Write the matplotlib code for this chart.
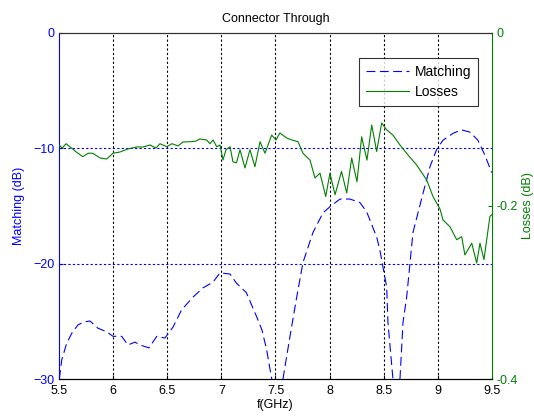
import matplotlib
matplotlib.use("Agg")
import matplotlib.pyplot as plt

plt.rcParams['font.family'] = ['Liberation Sans', 'DejaVu Sans']

# Matching (dB) vs frequency (GHz)
match_f = [5.503, 5.525, 5.571, 5.62, 5.676, 5.73, 5.786, 5.86, 5.94, 5.999, 6.079, 6.137,
           6.202, 6.248, 6.331, 6.403, 6.479, 6.553, 6.633, 6.738, 6.83, 6.923, 6.987, 7.08,
           7.14, 7.23, 7.326, 7.375, 7.419, 7.465, 7.52, 7.569, 7.634, 7.696, 7.754, 7.846,
           7.939, 8.003, 8.096, 8.188, 8.28, 8.342, 8.435, 8.465, 8.493, 8.527, 8.539, 8.585,
           8.62, 8.65, 8.678, 8.712, 8.77, 8.863, 8.927, 8.989, 9.047, 9.14, 9.22, 9.297,
           9.37, 9.435, 9.497]
match_db = [-30.0, -28.35, -26.9, -26.0, -25.3, -25.06, -24.97, -25.6, -25.9, -26.3, -26.3, -27.05,
            -26.8, -27.05, -27.3, -26.3, -26.45, -25.5, -24.0, -22.9, -22.1, -21.6, -20.8, -20.9,
            -21.7, -22.5, -24.6, -25.75, -27.5, -30.0, -35.0, -30.0, -26.3, -22.9, -19.9, -17.3,
            -15.6, -15.06, -14.4, -14.4, -14.7, -15.5, -17.7, -18.85, -20.3, -22.0, -25.1, -30.0,
            -36.0, -30.0, -25.1, -22.9, -17.3, -13.9, -11.6, -10.1, -9.3, -8.7, -8.4, -8.6,
            -9.3, -10.6, -12.1]

# Losses (dB) vs frequency (GHz)
loss_f = [5.5, 5.53, 5.565, 5.6, 5.66, 5.72, 5.77, 5.81, 5.88, 5.94, 5.999, 6.063, 6.137,
          6.218, 6.276, 6.34, 6.396, 6.433, 6.495, 6.544, 6.6, 6.645, 6.71, 6.766, 6.80,
          6.864, 6.895, 6.923, 6.957, 6.987, 7.015, 7.043, 7.08, 7.107, 7.14, 7.172, 7.218,
          7.264, 7.31, 7.357, 7.403, 7.465, 7.505, 7.54, 7.603, 7.652, 7.708, 7.754, 7.819,
          7.865, 7.911, 7.964, 8.003, 8.05, 8.11, 8.158, 8.204, 8.253, 8.296, 8.345, 8.389,
          8.435, 8.481, 8.527, 8.585, 8.65, 8.724, 8.804, 8.897, 8.955, 9.02, 9.047, 9.112,
          9.174, 9.22, 9.25, 9.313, 9.359, 9.389, 9.426, 9.481, 9.5]
loss_db = [-0.1295, -0.133, -0.128, -0.1315, -0.1376, -0.143, -0.139, -0.139, -0.1445, -0.1457,
           -0.139, -0.1376, -0.134, -0.1318, -0.1318, -0.1295, -0.133, -0.128, -0.1315, -0.128,
           -0.1306, -0.126, -0.1257, -0.125, -0.1225, -0.1237, -0.128, -0.1237, -0.1315, -0.1295,
           -0.1468, -0.135, -0.1315, -0.149, -0.150, -0.135, -0.156, -0.135, -0.1546, -0.1257,
           -0.139, -0.118, -0.1237, -0.1156, -0.1214, -0.1237, -0.1257, -0.139, -0.147, -0.1676,
           -0.162, -0.189, -0.162, -0.187, -0.160, -0.185, -0.1445, -0.172, -0.120, -0.147,
           -0.1064, -0.137, -0.104, -0.112, -0.118, -0.1295, -0.141, -0.1526, -0.170, -0.189,
           -0.2035, -0.216, -0.224, -0.239, -0.2355, -0.2566, -0.243, -0.266, -0.243, -0.262,
           -0.212, -0.210]

x_ticks = [5.5, 6, 6.5, 7, 7.5, 8, 8.5, 9, 9.5]
x_ticklabels = ['5.5', '6', '6.5', '7', '7.5', '8', '8.5', '9', '9.5']
left_ticks = [0, -10, -20, -30]
right_ticks = [0, -0.2, -0.4]
right_ticklabels = ['0', '-0.2', '-0.4']

BLUE = '#0000ff'
GREEN = '#008000'
FS = 9

fig = plt.figure(figsize=(5.34, 4.18), dpi=100)
ax = fig.add_axes([0.1105, 0.0933, 0.8108, 0.8278])
ax2 = ax.twinx()

lm, = ax.plot(match_f, match_db, color=BLUE, lw=0.8, dashes=(8, 4), label='Matching')
ll, = ax2.plot(loss_f, loss_db, color=GREEN, lw=0.8, label='Losses')

ax.set_xlim(5.5, 9.5)
ax.set_ylim(-30, 0)
ax2.set_ylim(-0.4, 0)

ax.set_xticks(x_ticks)
ax.set_xticklabels(x_ticklabels)
ax.set_yticks(left_ticks)
ax2.set_yticks(right_ticks)
ax2.set_yticklabels(right_ticklabels)

# grid
for xv in x_ticks[1:-1]:
    ax.axvline(xv, color='black', lw=0.8, dashes=(2, 2), zorder=0.5)
for yv in left_ticks[1:-1]:
    ax.axhline(yv, color=BLUE, lw=0.8, dashes=(2, 2), zorder=0.5)

ax.tick_params(axis='x', direction='in', length=3, labelsize=FS, colors='black', pad=4)
ax.tick_params(axis='y', direction='in', length=3, labelsize=FS, colors=BLUE, pad=3)
ax2.tick_params(axis='y', direction='in', length=3, labelsize=FS, colors=GREEN, pad=3)

for a in (ax, ax2):
    a.spines['top'].set_color('#333333')
    a.spines['bottom'].set_color('black')
ax.spines['left'].set_color(BLUE)
ax2.spines['left'].set_visible(False)
ax2.spines['right'].set_color(GREEN)
ax.spines['right'].set_visible(False)

ax.set_title('Connector Through', fontsize=FS, pad=8)
ax.set_xlabel('f(GHz)', fontsize=FS, labelpad=2)
ax.set_ylabel('Matching (dB)', fontsize=FS, color=BLUE, labelpad=6)
ax2.set_ylabel('Losses (dB)', fontsize=FS, color=GREEN, labelpad=3)

leg = ax2.legend(handles=[lm, ll], loc='upper right', bbox_to_anchor=(0.984, 0.948),
                 fontsize=10, frameon=True, fancybox=False, edgecolor='black',
                 handlelength=3.1, handletextpad=0.4, borderpad=0.5, labelspacing=0.45)
leg.get_frame().set_linewidth(0.8)

fig.savefig('out.png', dpi=100)
